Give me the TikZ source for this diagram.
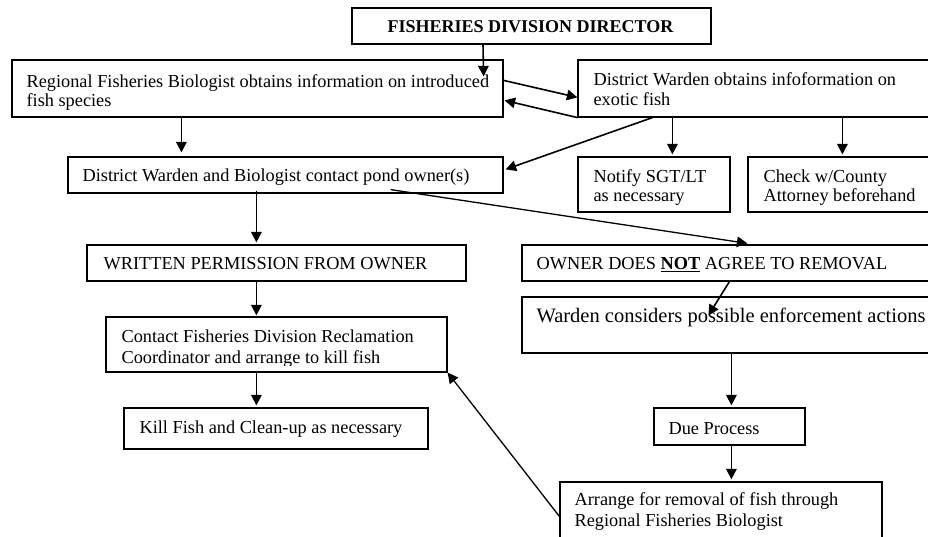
\documentclass[tikz,border=0pt]{standalone}
\usepackage{fontspec}
\setmainfont{Liberation Serif}
\usetikzlibrary{arrows.meta,calc,fit}
% block of left-aligned lines; optional argument is the line spacing
\newcommand{\blk}[2][20bp]{\fontsize{18.3bp}{#1}\selectfont\begin{tabular}[t]{@{}l@{}}#2\end{tabular}}
\begin{document}
\begin{tikzpicture}[x=1bp,y=-1bp,
  box/.style={draw, line width=1.2bp, inner sep=0pt},
  txt/.style={inner sep=0pt, anchor=base west},
  arr/.style={line width=1.6bp, -{Triangle[length=10.5bp,width=10.5bp]}},
  thinarr/.style={line width=1.3bp, -{Triangle[length=10.5bp,width=10.5bp]}}]
\path[use as bounding box] (0,0) rectangle (928,537);
\clip (0,0) rectangle (928,537);

% boxes
\node[box, fit={(352,8) (711,44)}] (dir) {};
\node[box, fit={(12,60) (503,117)}] (reg) {};
\node[box, fit={(578,60) (940,117)}] (dw) {};
\node[box, fit={(68,157) (503,193)}] (cpo) {};
\node[box, fit={(578,157) (730,212)}] (notify) {};
\node[box, fit={(748,157) (940,212)}] (check) {};
\node[box, fit={(87,245) (466,281)}] (written) {};
\node[box, fit={(522,245) (940,281)}] (owner) {};
\node[box, fit={(522,297) (940,353)}] (warden) {};
\node[box, fit={(106,317) (447,372)}] (cfd) {};
\node[box, fit={(124,408) (428,449)}] (kill) {};
\node[box, fit={(654,408) (805,445)}] (due) {};
\node[box, fit={(560,482) (882,570)}] (arrange) {};

% texts
\node[inner sep=0pt, anchor=base] (dir-t) at ($(dir.north)+(-1,25)$)
  {\fontsize{18bp}{20bp}\selectfont\bfseries FISHERIES DIVISION DIRECTOR};
\node[txt] (reg-t) at ($(reg.north west)+(15,28)$)
  {\blk[19bp]{Regional Fisheries Biologist obtains information on introduced\\fish species}};
\node[txt] (dw-t) at ($(dw.north west)+(16,26)$)
  {\blk{District Warden obtains infoformation on\\exotic fish}};
\node[txt] (cpo-t) at ($(cpo.north west)+(15,25)$)
  {\blk{District Warden and Biologist contact pond owner(s)}};
\begin{scope}
  \clip (notify.north west) rectangle ($(check.south east)+(0,-8)$);
  \node[txt] (notify-t) at ($(notify.north west)+(16,26)$)
    {\blk[19bp]{Notify SGT/LT\\as necessary}};
  \node[txt] (check-t) at ($(check.north west)+(16,26)$)
    {\blk[19bp]{Check w/County\\Attorney beforehand}};
\end{scope}
\node[txt] (written-t) at ($(written.north west)+(17,25)$)
  {\blk{WRITTEN PERMISSION FROM OWNER}};
\node[txt] (owner-t) at ($(owner.north west)+(15,25)$)
  {\blk{OWNER DOES \textbf{\underline{NOT}} AGREE TO REMOVAL}};
\node[txt] (warden-t) at ($(warden.north west)+(15,26)$)
  {\fontsize{20.5bp}{22bp}\selectfont Warden considers possible enforcement actions};
\begin{scope}
  \clip (cfd.north west) rectangle ($(cfd.south east)+(0,-7)$);
  \node[txt] (cfd-t) at ($(cfd.north west)+(16,26)$)
    {\blk[21bp]{Contact Fisheries Division Reclamation\\Coordinator and arrange to kill fish}};
\end{scope}
\node[txt] (kill-t) at ($(kill.north west)+(16,26)$)
  {\blk{Kill Fish and Clean-up as necessary}};
\node[txt] (due-t) at ($(due.north west)+(15,27)$)
  {\blk{Due Process}};
\node[txt] (arrange-t) at ($(arrange.north west)+(15,24)$)
  {\blk[21bp]{Arrange for removal of fish through\\Regional Fisheries Biologist}};

% connectors
\draw[arr] ($(dir.south)+(-48.5,0)$) -- ($(reg.north east)+(-20,17)$);
\draw[arr] ($(reg.north east)+(0,21)$) -- ($(dw.north west)+(0,38)$);
\draw[arr] (dw.south west) -- ($(reg.north east)+(1,41)$);
\draw[arr] ($(reg.south west)+(170,0)$) -- ($(cpo.north west)+(114,-4)$);
\draw[arr] ($(dw.south west)+(75,0)$) -- ($(cpo.north east)+(2,13)$);
\draw[arr] ($(dw.south west)+(95,0)$) -- ($(notify.north west)+(95,-2)$);
\draw[arr] ($(dw.south west)+(265,0)$) -- ($(check.north west)+(95,-2)$);
\draw[thinarr] ($(cpo.south east)+(-113,-4)$) -- ($(owner.north west)+(226,-1)$);
\draw[arr] ($(cpo.south west)+(189,-3)$) -- ($(written.north west)+(170,-2)$);
\draw[arr] ($(owner.south west)+(208,0)$) -- ($(warden.north west)+(187,19)$);
\draw[arr] ($(written.south west)+(170,0)$) -- ($(cfd.north west)+(151,-1)$);
\draw[arr] ($(cfd.south west)+(151,0)$) -- ($(kill.north west)+(133,-2)$);
\draw[arr] ($(warden.south west)+(210,0)$) -- ($(due.north west)+(78,-2)$);
\draw[arr] ($(due.south west)+(78,0)$) -- ($(arrange.north west)+(172,-2)$);
\draw[thinarr] ($(arrange.north west)+(0,35)$) -- (cfd.south east);
\end{tikzpicture}
\end{document}
